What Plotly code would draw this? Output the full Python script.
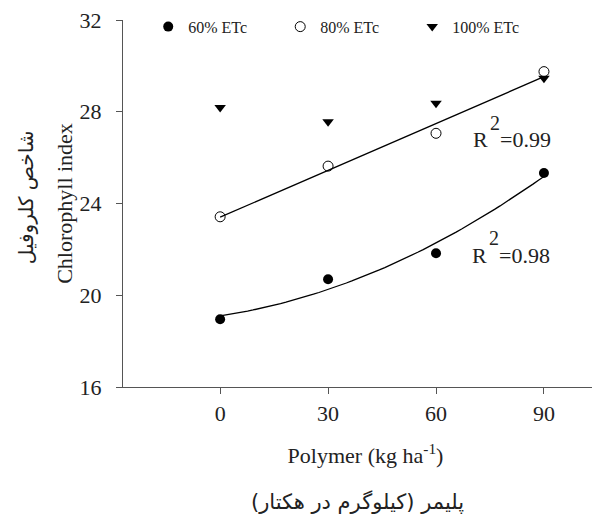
import numpy as np
import plotly.graph_objects as go

polymer = [0, 30, 60, 90]
etc60 = [18.95, 20.7, 21.83, 25.33]
etc80 = [23.42, 25.63, 27.06, 29.75]
etc100 = [28.18, 27.56, 28.37, 29.46]
series_names = ["60% ETc", "80% ETc", "100% ETc"]
r2_labels = ["=0.99", "=0.98"]
x_ticks = [0, 30, 60, 90]
y_ticks = [16, 20, 24, 28, 32]

SERIF = "Liberation Serif"
AR = "DejaVu Sans"
TXT = "#222"

fig = go.Figure()

# fitted trend lines (regression of the data)
xf = np.linspace(min(polymer), max(polymer), 60)
c80 = np.polyfit(polymer, etc80, 1)
c60 = np.polyfit(polymer, etc60, 2)
fig.add_trace(go.Scatter(x=xf, y=np.polyval(c80, xf), mode="lines",
                         line=dict(color="black", width=1.3), showlegend=False, hoverinfo="skip"))
fig.add_trace(go.Scatter(x=xf, y=np.polyval(c60, xf), mode="lines",
                         line=dict(color="black", width=1.3), showlegend=False, hoverinfo="skip"))

fig.add_trace(go.Scatter(x=polymer, y=etc60, mode="markers", name=series_names[0],
                         marker=dict(symbol="circle", size=10, color="black")))
fig.add_trace(go.Scatter(x=polymer, y=etc80, mode="markers", name=series_names[1],
                         marker=dict(symbol="circle-open", size=10, color="black", line=dict(width=1))))
fig.add_trace(go.Scatter(x=polymer, y=etc100, mode="markers", name=series_names[2],
                         marker=dict(symbol="triangle-down", size=10, color="black")))

# R^2 labels (R, raised 2, value)
def r2(x_r, y_r, y_sup, x_val, label):
    fig.add_annotation(x=x_r, y=y_r, text="R", showarrow=False, xanchor="right",
                       borderpad=0, font=dict(family=SERIF, size=22, color=TXT))
    fig.add_annotation(x=x_r, y=y_sup, text="2", showarrow=False, xanchor="left",
                       borderpad=0, font=dict(family=SERIF, size=20, color=TXT))
    fig.add_annotation(x=x_val, y=y_r, text=label, showarrow=False, xanchor="left",
                       borderpad=0, font=dict(family=SERIF, size=22, color=TXT))

r2(74.7, 26.77, 27.52, 77.6, r2_labels[0])
r2(74.4, 21.73, 22.48, 77.3, r2_labels[1])

# Persian titles
fig.add_annotation(xref="paper", yref="paper", x=0.4845, y=-0.313, yanchor="middle",
                   text="پلیمر (کیلوگرم در هکتار)", showarrow=False,
                   font=dict(family=AR, size=21, color=TXT))
fig.add_annotation(xref="paper", yref="paper", x=-0.201, y=0.516, xanchor="center",
                   yanchor="middle", text="شاخص کلروفیل", showarrow=False, textangle=-90,
                   font=dict(family=AR, size=20, color=TXT))

fig.update_layout(
    width=600, height=517,
    margin=dict(l=115, r=0, t=12, b=138),
    paper_bgcolor="white", plot_bgcolor="white",
    font=dict(family=SERIF, size=22, color=TXT),
    legend=dict(orientation="h", x=0.052, y=1.028, xanchor="left", yanchor="top",
                font=dict(family=SERIF, size=16, color=TXT),
                bgcolor="rgba(0,0,0,0)", entrywidth=87, entrywidthmode="pixels"),
    xaxis=dict(range=[-27, 107.8], tickvals=x_ticks, ticks="outside", ticklen=6,
               tickcolor="#555", showline=True, linecolor="#555", linewidth=1.3,
               showgrid=False, zeroline=False, automargin=False,
               ticklabeloverflow="allow",
               tickfont=dict(family=SERIF, size=22),
               title=dict(text="Polymer (kg ha<sup>-1</sup>)", standoff=23,
                          font=dict(family=SERIF, size=22))),
    yaxis=dict(range=[16, 32], tickvals=y_ticks, ticks="outside", ticklen=6,
               tickcolor="#555", showline=True, linecolor="#555", linewidth=1.3,
               showgrid=False, zeroline=False, automargin=False,
               ticklabelstandoff=10, ticklabeloverflow="allow",
               tickfont=dict(family=SERIF, size=22),
               title=dict(text="Chlorophyll index", standoff=0,
                          font=dict(family=SERIF, size=22))),
)

fig.write_html("out.html")
